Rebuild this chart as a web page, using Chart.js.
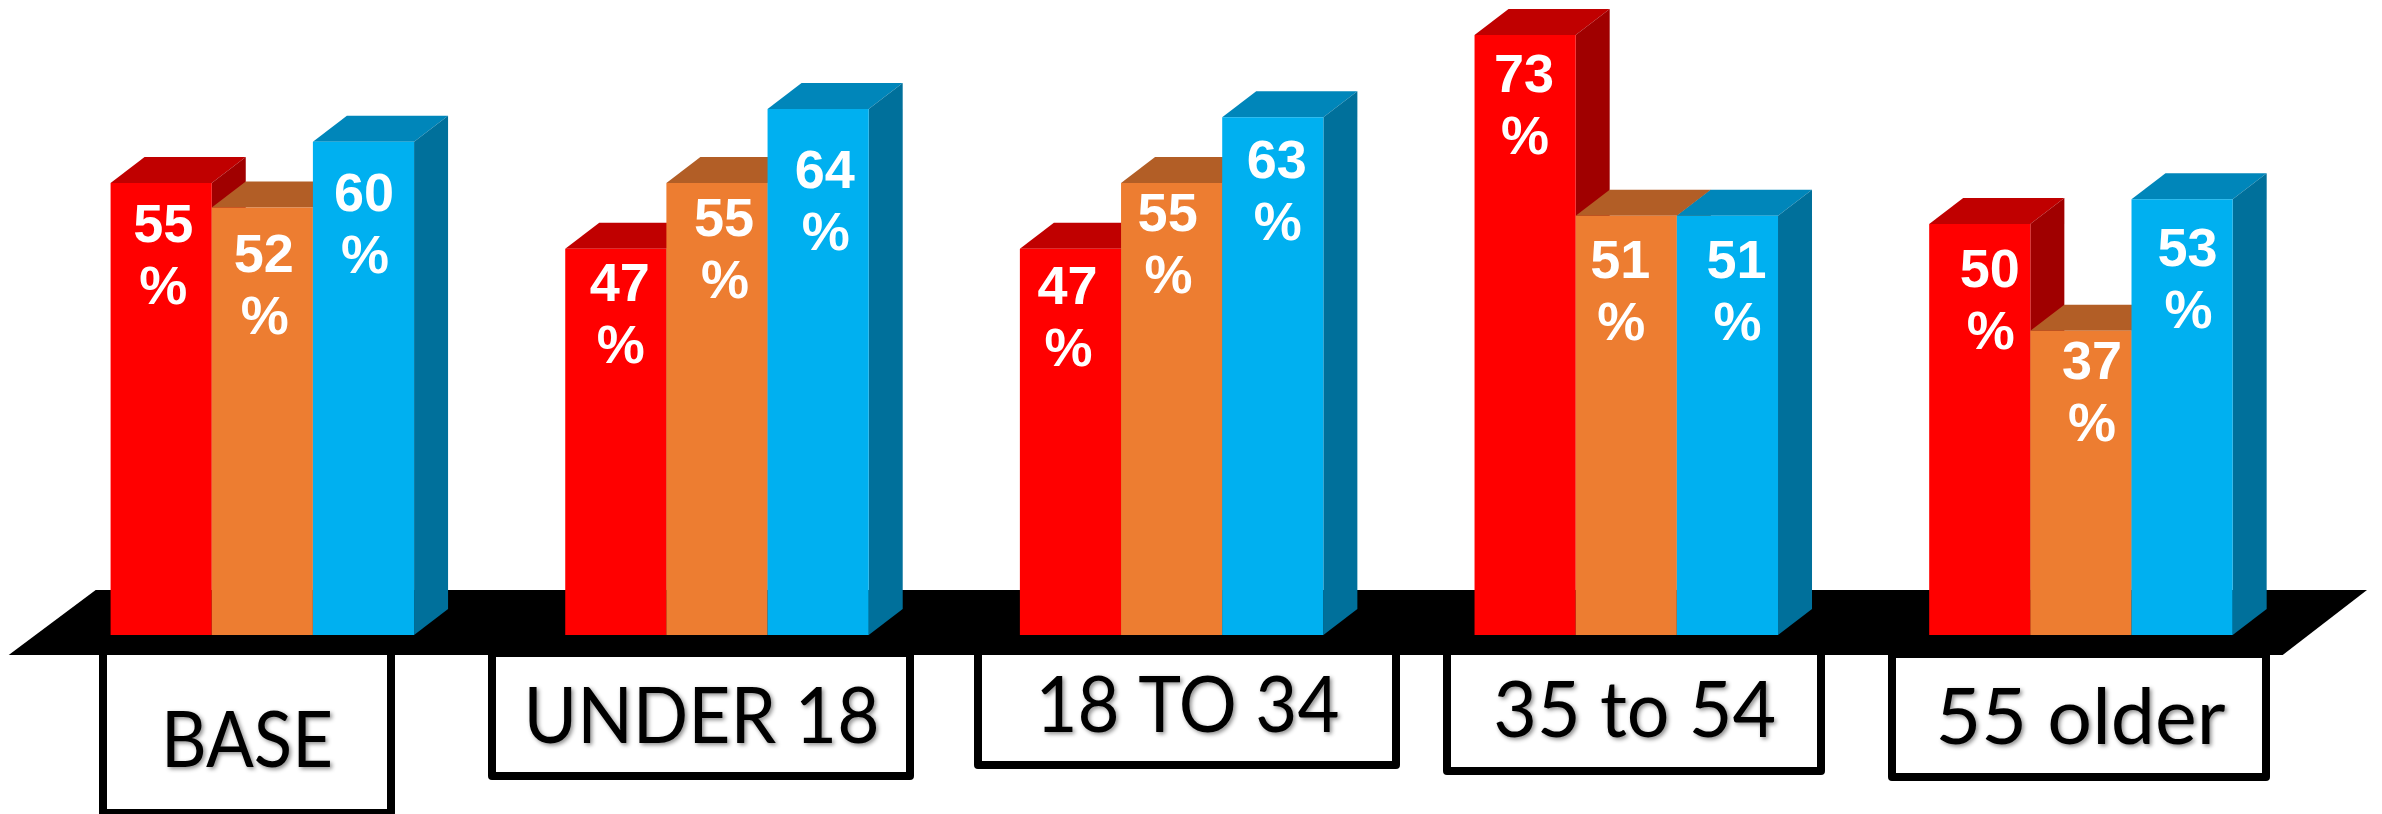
<!DOCTYPE html>
<html>
<head>
<meta charset="utf-8">
<style>html,body{margin:0;padding:0;background:#fff}canvas{display:block}</style>
<script src="https://cdn.jsdelivr.net/npm/chart.js@4/dist/chart.umd.min.js"></script>
</head>
<body>
<canvas id="c" width="2382" height="814"></canvas>
<script>
// ---- data ----
const categories = ['BASE', 'UNDER 18', '18 TO 34', '35 to 54', '55 older'];
const redValues = [55, 47, 47, 73, 50];
const orangeValues = [52, 55, 55, 51, 37];
const blueValues = [60, 64, 63, 51, 53];

// ---- styling and hand placement, kept apart from the data ----
const faces = [
  {front: '#FF0000', top: '#C00000', side: '#A00000'},
  {front: '#ED7D31', top: '#B25E26', side: '#8E4B1F'},
  {front: '#00B0F0', top: '#0086BA', side: '#00709B'}
];
const DEPTH_X = 34, DEPTH_Y = 26;
const labelFont = 'bold 54px "Liberation Sans"';
// digit-baseline drop below each bar's top, and centre shift from the bar's centre [series][category]
const labelDrop = [[58.6, 52.4, 55, 56.6, 62.8], [64.6, 53, 48.3, 62.3, 48.3], [69.3, 79.3, 60.7, 62.3, 66.9]];
const labelShift = [[2, 4, -3, -1, 10], [1.5, 7, -4, -6, 11], [0.5, 6.7, 3.9, 9, 5.5]];
const percentShift = [[0, 1, 1, 1, 1], [1, 1, 1, 1, 0], [1, 1, 1, 1, 1]];
// name box frames [left, right, top, bottom], outer edges
const boxes = [[99, 395, 645, 817], [488, 914, 649, 780], [974, 1400, 645, 769], [1443, 1825, 645, 775], [1888, 2270, 650, 781]];
const boxText = [{x: 247, y: 767, w: 172}, {x: 701.5, y: 743, w: 356}, {x: 1187.5, y: 732, w: 304}, {x: 1634.7, y: 737, w: 283}, {x: 2080.5, y: 744, w: 290}];

function quad(ctx, pts, fill) {
  ctx.beginPath();
  pts.forEach((p, i) => i ? ctx.lineTo(p[0], p[1]) : ctx.moveTo(p[0], p[1]));
  ctx.closePath();
  ctx.fillStyle = fill;
  ctx.fill();
}

const scene = {
  id: 'scene',
  beforeDatasetsDraw(chart) {
    const ctx = chart.ctx, y0 = chart.scales.y.getPixelForValue(0);
    ctx.save();
    // name boxes
    ctx.lineWidth = 8;
    ctx.lineJoin = 'round';
    ctx.strokeStyle = '#000';
    boxes.forEach(b => ctx.strokeRect(b[0] + 4, b[2] + 4, b[1] - b[0] - 8, b[3] - b[2] - 8));
    // floor
    quad(ctx, [[95.7, y0 - 45], [2367, y0 - 45], [2282.7, y0 + 20], [8.7, y0 + 20]], '#000');
    // names
    ctx.font = '78px Lato';
    ctx.textAlign = 'center';
    ctx.textBaseline = 'alphabetic';
    ctx.fillStyle = '#000';
    ctx.shadowColor = 'rgba(0,0,0,0.45)';
    ctx.shadowBlur = 4;
    ctx.shadowOffsetX = 2;
    ctx.shadowOffsetY = 2;
    chart.data.labels.forEach((name, i) => {
      const t = boxText[i], k = t.w / ctx.measureText(name).width;
      ctx.save();
      ctx.translate(t.x, t.y);
      ctx.scale(k, 1);
      ctx.fillText(name, 0, 0);
      ctx.restore();
    });
    ctx.restore();
  },
  // bars are painted left to right below, so each one's front hides its left neighbour's side
  beforeDatasetDraw() { return false; },
  afterDatasetsDraw(chart) {
    const ctx = chart.ctx;
    chart.data.datasets.forEach((ds, s) => {
      const f = faces[s];
      chart.getDatasetMeta(s).data.forEach(bar => {
        const l = bar.x - bar.width / 2, r = bar.x + bar.width / 2, t = bar.y, b = bar.base;
        quad(ctx, [[l, t], [l + DEPTH_X, t - DEPTH_Y], [r + DEPTH_X, t - DEPTH_Y], [r, t]], f.top);
        quad(ctx, [[r, t], [r + DEPTH_X, t - DEPTH_Y], [r + DEPTH_X, b - DEPTH_Y], [r, b]], f.side);
        bar.draw(ctx);
      });
    });
    ctx.save();
    ctx.font = labelFont;
    ctx.fillStyle = '#fff';
    ctx.textAlign = 'center';
    ctx.textBaseline = 'alphabetic';
    chart.data.datasets.forEach((ds, s) => {
      chart.getDatasetMeta(s).data.forEach((bar, i) => {
        const x = bar.x + labelShift[s][i], y = bar.y + labelDrop[s][i];
        ctx.fillText(String(ds.data[i]), x, y);
        ctx.fillText('%', x + percentShift[s][i], y + 62);
      });
    });
    ctx.restore();
  }
};

new Chart(document.getElementById('c'), {
  type: 'bar',
  data: {
    labels: categories,
    datasets: [
      {label: 'Red', data: redValues, backgroundColor: faces[0].front},
      {label: 'Orange', data: orangeValues, backgroundColor: faces[1].front},
      {label: 'Blue', data: blueValues, backgroundColor: faces[2].front}
    ]
  },
  options: {
    responsive: false,
    animation: false,
    layout: {padding: {left: 35, right: 73.75, top: 18.5, bottom: 179}},
    datasets: {bar: {barPercentage: 1, categoryPercentage: 0.6675, borderWidth: 0}},
    plugins: {legend: {display: false}, title: {display: false}, tooltip: {enabled: false}},
    scales: {
      x: {display: false},
      y: {display: false, min: 0, max: 75}
    }
  },
  plugins: [scene]
});
</script>
</body>
</html>
